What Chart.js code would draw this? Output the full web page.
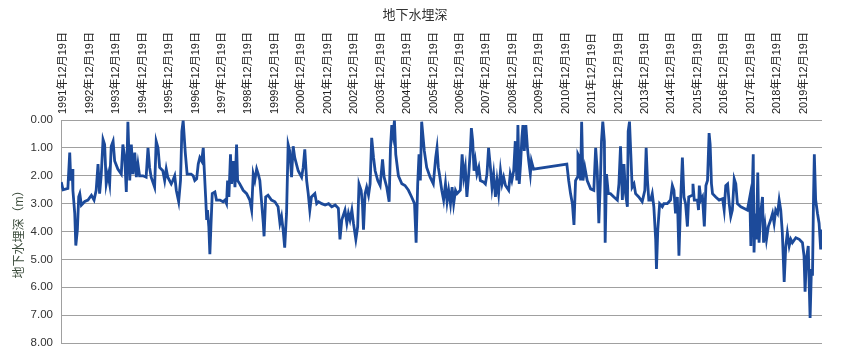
<!DOCTYPE html>
<html>
<head>
<meta charset="utf-8">
<script src="https://cdn.jsdelivr.net/npm/chart.js@4/dist/chart.umd.min.js"></script>
<style>
html,body{margin:0;padding:0;background:#fff;}
#wrap{width:857px;height:358px;}
</style>
</head>
<body>
<div id="wrap"><canvas id="c" width="857" height="358"></canvas></div>
<script>
// x: years elapsed since 1991-12-19
const yearsSinceStart = [
0.01,0.08,0.26,0.33,0.37,0.42,0.45,0.52,0.56,0.62,0.67,0.71,0.77,0.90,1.02,1.15,1.25,1.33,1.40,1.46,
1.52,1.59,1.65,1.71,1.78,1.84,1.90,1.97,2.03,2.15,2.28,2.34,2.41,2.47,2.53,2.60,2.66,2.72,2.79,2.85,
2.91,2.97,3.10,3.22,3.29,3.35,3.41,3.54,3.60,3.67,3.73,3.85,3.92,3.98,4.04,4.17,4.23,4.30,4.36,4.45,
4.52,4.57,4.62,4.70,4.77,4.92,5.00,5.06,5.13,5.19,5.25,5.32,5.38,5.42,5.47,5.51,5.54,5.59,5.63,5.67,
5.72,5.82,5.88,6.01,6.13,6.20,6.26,6.30,6.35,6.41,6.45,6.51,6.58,6.64,6.68,6.76,6.89,7.02,7.14,7.21,
7.27,7.33,7.40,7.46,7.52,7.58,7.65,7.68,7.74,7.83,7.96,8.09,8.21,8.28,8.34,8.40,8.46,8.53,8.59,8.65,
8.72,8.78,8.84,8.97,9.10,9.16,9.22,9.29,9.35,9.41,9.47,9.60,9.67,9.74,9.86,9.99,10.12,10.24,10.37,10.49,
10.55,10.62,10.74,10.81,10.87,10.93,11.00,11.06,11.15,11.22,11.27,11.35,11.40,11.44,11.50,11.56,11.63,11.69,11.75,11.82,
11.88,11.98,12.07,12.16,12.22,12.32,12.41,12.46,12.51,12.56,12.61,12.66,12.76,12.89,13.01,13.14,13.26,13.37,13.43,13.49,
13.54,13.59,13.64,13.74,13.83,13.96,14.08,14.17,14.22,14.27,14.33,14.40,14.47,14.54,14.60,14.66,14.73,14.79,14.85,14.92,
14.98,15.10,15.17,15.23,15.29,15.35,15.42,15.48,15.52,15.57,15.62,15.67,15.73,15.80,15.86,15.99,16.05,16.11,16.17,16.24,
16.30,16.36,16.43,16.49,16.55,16.62,16.68,16.74,16.81,16.93,16.99,17.05,17.12,17.18,17.24,17.28,17.33,17.38,17.43,17.47,
17.52,17.58,17.64,17.69,17.75,17.79,17.87,19.13,19.20,19.27,19.34,19.40,19.46,19.53,19.55,19.61,19.65,19.69,19.74,19.81,
19.90,20.03,20.15,20.22,20.28,20.34,20.40,20.44,20.49,20.55,20.58,20.63,20.70,20.78,20.91,21.04,21.10,21.16,21.23,21.29,
21.35,21.42,21.45,21.50,21.55,21.60,21.67,21.73,21.85,21.98,22.08,22.13,22.18,22.23,22.30,22.36,22.42,22.49,22.52,22.57,
22.64,22.74,22.80,22.93,23.05,23.12,23.18,23.24,23.31,23.37,23.43,23.50,23.56,23.62,23.69,23.74,23.87,23.90,23.95,24.07,
24.11,24.14,24.20,24.26,24.33,24.39,24.45,24.51,24.55,24.60,24.64,24.76,24.89,25.02,25.08,25.14,25.21,25.27,25.33,25.39,
25.46,25.52,25.58,25.71,25.84,25.96,26.05,26.09,26.12,26.18,26.21,26.25,26.30,26.35,26.40,26.46,26.53,26.57,26.63,26.68,
26.75,26.84,26.91,26.97,27.03,27.10,27.16,27.22,27.28,27.35,27.41,27.47,27.54,27.60,27.66,27.79,27.92,28.04,28.10,28.14,
28.19,28.26,28.29,28.33,28.38,28.42,28.46,28.49,28.54,28.61,28.67,28.73,28.78
];
// groundwater depth (m)
const depthMeters = [
2.23,2.50,2.45,1.17,2.17,1.76,2.52,3.35,4.50,3.93,2.75,2.64,3.05,2.92,2.87,2.70,2.87,2.52,1.58,2.64,
2.00,0.70,0.88,2.29,1.94,2.29,0.94,0.76,1.47,1.76,1.94,0.88,1.35,2.58,0.06,2.17,0.88,1.94,1.17,2.05,
1.58,2.00,2.00,2.05,1.00,1.70,2.05,2.41,0.76,1.00,1.70,1.82,2.17,1.76,2.05,2.29,2.17,2.00,2.52,2.93,
2.17,0.41,0.02,1.17,1.94,1.94,2.00,2.17,2.11,1.58,1.35,1.47,1.00,1.82,2.76,3.58,3.23,3.82,4.81,3.82,
2.64,2.58,2.87,2.87,2.93,2.87,3.00,2.17,2.76,1.23,2.29,1.47,2.41,0.88,2.17,2.29,2.52,2.64,2.87,3.23,
1.94,2.17,1.76,1.94,2.17,2.87,3.70,4.17,2.76,2.70,2.87,2.93,3.11,3.70,3.46,3.93,4.58,3.35,0.88,1.11,
2.05,0.94,1.35,1.82,2.05,1.70,1.05,2.17,2.64,3.23,2.76,2.64,3.00,2.93,3.00,3.05,3.00,3.11,3.05,3.17,
4.28,3.58,3.23,3.70,3.35,3.58,3.23,3.70,4.28,3.82,2.29,2.52,3.00,3.93,2.64,2.41,2.70,2.29,0.64,1.35,
1.82,2.17,2.35,1.41,2.05,2.41,2.93,1.00,0.18,0.53,0.02,1.23,2.00,2.29,2.35,2.52,2.76,3.00,4.40,2.29,
1.23,2.17,0.06,1.11,1.70,2.05,2.29,1.35,1.00,1.70,2.05,2.52,2.87,2.29,2.93,2.52,3.00,2.41,3.00,2.52,
2.64,2.52,1.23,2.05,1.70,2.76,1.94,1.11,0.29,0.76,1.82,1.47,1.94,1.70,2.17,2.23,2.29,1.94,1.00,1.70,
2.41,1.94,2.76,2.17,2.64,1.82,2.29,2.05,2.35,2.52,1.94,2.17,1.82,0.76,2.17,0.18,2.29,1.58,0.64,0.18,
1.11,0.18,1.00,1.47,1.94,1.47,1.76,1.58,2.17,2.64,3.00,3.76,2.17,2.05,1.23,1.35,2.17,0.06,2.17,1.70,
2.17,2.47,2.52,1.00,1.82,3.70,2.17,0.76,0.06,0.76,4.40,1.94,2.64,2.64,2.76,2.87,2.29,0.94,2.87,1.58,
2.64,3.11,0.41,0.06,1.23,2.41,2.29,2.64,2.76,2.93,2.52,1.00,2.17,2.87,2.87,2.64,3.11,4.28,5.34,3.93,
3.00,3.11,3.00,3.00,2.87,2.35,2.52,3.35,2.76,4.87,3.00,1.35,2.76,3.00,3.82,2.76,2.70,2.29,2.87,2.87,
3.23,2.35,2.87,2.76,3.82,2.35,2.17,0.47,0.88,2.29,2.64,2.76,2.87,2.82,3.23,2.35,2.29,3.00,3.46,3.23,
2.11,2.29,3.00,3.11,3.17,3.23,2.76,4.52,3.35,1.23,4.75,3.35,4.28,1.88,4.40,3.35,2.76,4.40,3.82,4.28,
3.82,3.58,3.35,3.70,3.23,3.35,2.87,3.23,4.05,5.81,4.52,4.05,4.52,4.28,4.40,4.22,4.28,4.40,4.87,6.16,
4.99,4.52,5.69,7.10,5.34,5.58,2.76,1.23,2.87,3.35,3.70,4.64,3.93
];
const tickLabels = [
"1991年12月19日","1992年12月19日","1993年12月19日","1994年12月19日","1995年12月19日",
"1996年12月19日","1997年12月19日","1998年12月19日","1999年12月19日","2000年12月19日",
"2001年12月19日","2002年12月19日","2003年12月19日","2004年12月19日","2005年12月19日",
"2006年12月19日","2007年12月19日","2008年12月19日","2009年12月19日","2010年12月19日",
"2011年12月19日","2012年12月19日","2013年12月19日","2014年12月19日","2015年12月19日",
"2016年12月19日","2017年12月19日","2018年12月19日","2019年12月19日"
];
const chartTitle = "地下水埋深";
const yTitle = "地下水埋深（m）";

const FONT = '"Liberation Sans", Arial, "Noto Sans CJK SC", sans-serif';
const points = yearsSinceStart.map((x, i) => ({x: x, y: depthMeters[i]}));

new Chart(document.getElementById('c'), {
  type: 'line',
  data: {
    datasets: [{
      data: points,
      borderColor: '#1c4a9a',
      borderWidth: 2.8,
      pointRadius: 0,
      tension: 0,
      fill: false
    }]
  },
  options: {
    responsive: false,
    animation: false,
    layout: { padding: { left: 8, right: 35, top: 0, bottom: 11 } },
    plugins: {
      legend: { display: false },
      tooltip: { enabled: false },
      title: {
        display: true,
        text: chartTitle,
        color: '#333',
        font: { family: FONT, size: 13, weight: 'normal' },
        padding: { top: 8, bottom: 6 }
      }
    },
    scales: {
      x: {
        type: 'linear',
        position: 'top',
        min: 0,
        max: yearsSinceStart[yearsSinceStart.length - 1],
        grid: { display: false, drawTicks: false },
        border: { display: false },
        afterFit: (s) => { s.height = 90.4; },
        ticks: {
          stepSize: 1,
          autoSkip: false,
          includeBounds: false,
          minRotation: 90,
          maxRotation: 90,
          padding: 6,
          labelOffset: 15.5,
          color: '#222',
          font: { family: FONT, size: 11 },
          callback: (v) => (Number.isInteger(v) && tickLabels[v]) ? tickLabels[v] : ''
        }
      },
      y: {
        reverse: true,
        min: 0,
        max: 8,
        afterFit: (s) => { s.width = 53; },
        grid: { color: '#a0a0a0', lineWidth: 1, drawTicks: false },
        border: { display: true, color: '#a0a0a0', width: 1 },
        title: {
          display: true,
          text: yTitle,
          color: '#3a4a3a',
          font: { family: FONT, size: 12 },
          padding: { top: 4, bottom: 0 }
        },
        ticks: {
          stepSize: 1,
          padding: 8,
          color: '#333',
          font: { family: FONT, size: 11.5 },
          callback: (v) => Number(v).toFixed(2)
        }
      }
    }
  }
});
</script>
</body>
</html>
